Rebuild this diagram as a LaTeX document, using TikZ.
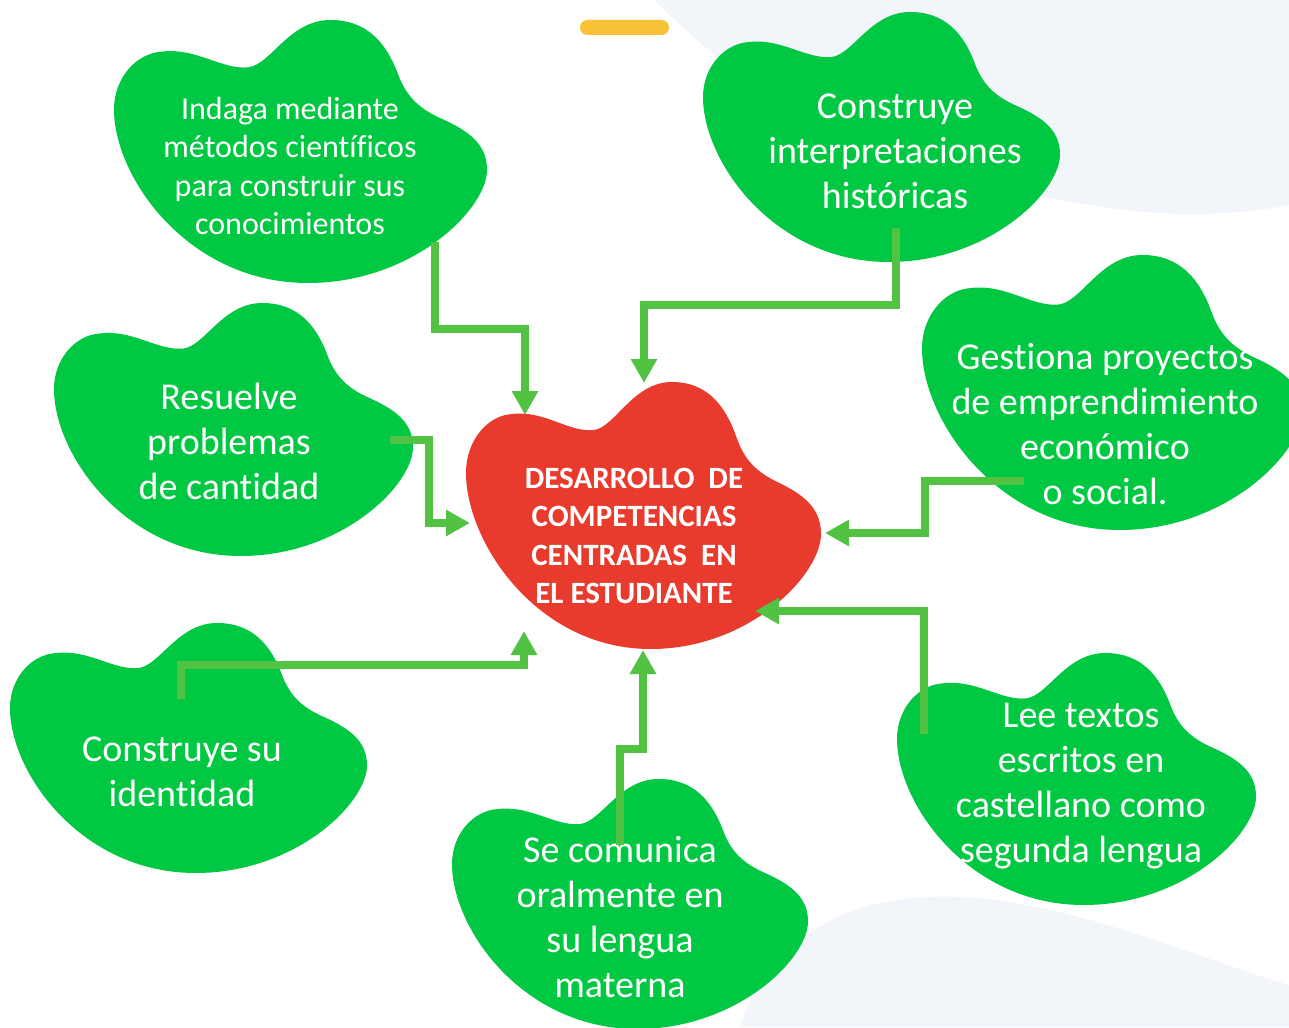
\documentclass[tikz,border=0pt]{standalone}
\usepackage{fontspec}
\setmainfont{Carlito}[Ligatures=CommonOff]
\usetikzlibrary{arrows.meta}
\definecolor{blobgreen}{RGB}{0,200,66}
\definecolor{conngreen}{RGB}{82,194,66}
\definecolor{blobred}{RGB}{232,58,45}
\definecolor{bgshape}{RGB}{242,245,250}
\definecolor{pillyellow}{RGB}{248,193,54}
\newcommand{\myblob}[5]{%
 \begin{scope}[shift={(#1,#2)},xscale=#3,yscale=#4]
 \fill[#5] (0.13,0.12) .. controls (0.22,0.105) and (0.29,0.19) .. (0.36,0.18)
   .. controls (0.42,0.17) and (0.47,0.0) .. (0.58,0.0)
   .. controls (0.68,0.0) and (0.73,0.09) .. (0.76,0.2)
   .. controls (0.78,0.28) and (0.81,0.33) .. (0.87,0.37)
   .. controls (0.95,0.42) and (1.0,0.47) .. (1.0,0.57)
   .. controls (1.0,0.72) and (0.8,1.0) .. (0.52,1.0)
   .. controls (0.2,1.0) and (0.0,0.6) .. (0.0,0.34)
   .. controls (0.0,0.22) and (0.06,0.125) .. (0.13,0.12) -- cycle;
 \end{scope}}
\tikzset{
  lbl/.style={text=white, align=center, inner sep=0pt, font=\fontsize{19}{22.5}\selectfont},
  lblsmall/.style={text=white, align=center, inner sep=0pt, font=\fontsize{16}{19.25}\selectfont},
  lblcenter/.style={text=white, align=center, inner sep=0pt, font=\bfseries\fontsize{15.5}{19.25}\selectfont},
  conn/.style={draw=conngreen, line width=4pt, -{Triangle[width=12.5pt,length=12pt]}}
}
\begin{document}
\begin{tikzpicture}[x=0.5pt,y=-0.5pt]
\useasboundingbox (0,0) rectangle (1289,1027);
\fill[white] (0,0) rectangle (1289,1027);
% background shapes
\fill[bgshape] (655,0) .. controls (760,110) and (900,175) .. (1090,205)
  .. controls (1160,216) and (1220,218) .. (1289,205) -- (1289,0) -- cycle;
\fill[bgshape] (740,1027) .. controls (760,960) and (820,903) .. (925,897)
  .. controls (1050,890) and (1200,960) .. (1289,985) -- (1289,1027) -- cycle;
% pill
\fill[pillyellow, rounded corners=3.75pt] (580,20) rectangle (669,35);
% blobs
\myblob{114}{20}{373}{263}{blobgreen}
\myblob{703}{12}{357}{250}{blobgreen}
\myblob{54}{303}{359}{253}{blobgreen}
\myblob{922}{255}{380}{275}{blobgreen}
\myblob{10}{623}{357}{250}{blobgreen}
\myblob{452}{779}{356}{250}{blobgreen}
\myblob{897}{653}{359}{252}{blobgreen}
\myblob{466}{382}{355}{267}{blobred}
% labels
\node[lblsmall] (indaga) at (290,166) {Indaga mediante\\métodos científicos\\para construir sus\\conocimientos};
\node[lbl] (interp) at (895,151) {Construye\\interpretaciones\\históricas};
\node[lbl] (resuelve) at (229,441) {Resuelve\\problemas\\de cantidad};
\node[lbl] (gestiona) at (1105,424) {Gestiona proyectos\\de emprendimiento\\económico\\o social.};
\node[lbl] (identidad) at (182,772) {Construye su\\identidad};
\node[lbl] (comunica) at (620,917) {Se comunica\\oralmente en\\su lengua\\materna};
\node[lbl] (lee) at (1081,786) {Lee textos\\escritos en\\castellano como\\segunda lengua};
\node[lblcenter] (centro) at (634,536) {DESARROLLO\ \ DE\\COMPETENCIAS\\CENTRADAS\ \ EN\\EL ESTUDIANTE};
% connector endpoints
\coordinate (s1) at (435,242); \coordinate (t1) at (525,415);
\coordinate (s2) at (896,228); \coordinate (t2) at (644,383);
\coordinate (s3) at (390,440); \coordinate (t3) at (470,523);
\coordinate (s4) at (1024,481); \coordinate (t4) at (825,533);
\coordinate (s5) at (181,699); \coordinate (t5) at (524,631);
\coordinate (s6) at (620,845); \coordinate (t6) at (643,650);
\coordinate (s7) at (924,734); \coordinate (t7) at (755,611);
% connectors
\draw[conn] (s1) -- ++(0,87) -| (t1);
\draw[conn] (s2) -- ++(0,77) -| (t2);
\draw[conn] (s3) -- ++(39,0) |- (t3);
\draw[conn] (s4) -- ++(-99,0) |- (t4);
\draw[conn] (s5) -- ++(0,-34) -| (t5);
\draw[conn] (s6) -- ++(0,-96) -| (t6);
\draw[conn] (s7) |- (t7);
\end{tikzpicture}
\end{document}
